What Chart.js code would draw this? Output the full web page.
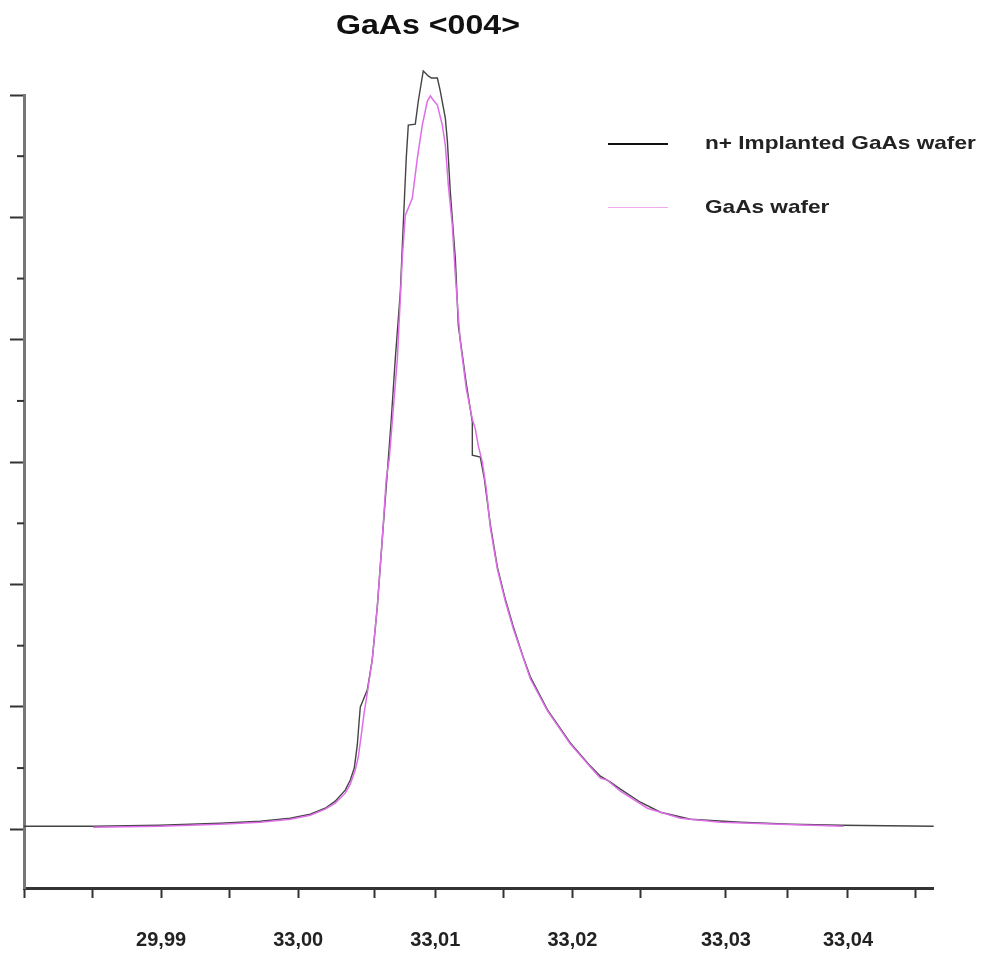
<!DOCTYPE html>
<html>
<head>
<meta charset="utf-8">
<script src="https://cdn.jsdelivr.net/npm/chart.js@4.4.1/dist/chart.umd.min.js"></script>
<style>
    body { margin: 0; background: #fff; font-family: "Liberation Sans", Arial, sans-serif; }
    #wrap { position: relative; width: 987px; height: 954px; }
    #titolo {
        position: absolute; left: 0; top: 12px; width: 856px; text-align: center;
        font-weight: bold; font-size: 27px; line-height: 27px; color: #111;
        transform: scaleX(1.19);
    }
    #legenda { position: absolute; left: 608px; top: 126px; }
    .voce { position: relative; height: 64px; }
    .segno { position: absolute; left: 0; width: 60px; }
    .testo {
        position: absolute; left: 97px; top: 5px; white-space: nowrap;
        font-weight: bold; font-size: 19px; line-height: 24px; color: #222;
        transform: scaleX(1.19); transform-origin: left center;
    }
</style>
</head>
<body>
<div id="wrap">
    <canvas id="grafico"></canvas>
    <div id="titolo">GaAs &lt;004&gt;</div>
    <div id="legenda"></div>
</div>
<script>
// n+ implanted wafer (black curve), angle and relative intensity
const implantedX = [32.98000, 32.98263, 32.98518, 32.98993, 32.99431, 32.99723, 32.99942, 33.00088,
    33.00197, 33.00270, 33.00343, 33.00380, 33.00409, 33.00431, 33.00445, 33.00453, 33.00474, 33.00504,
    33.00540, 33.00577, 33.00613, 33.00650, 33.00679, 33.00708, 33.00745, 33.00766, 33.00788, 33.00803,
    33.00854, 33.00876, 33.00912, 33.00949, 33.00971, 33.01015, 33.01036, 33.01073, 33.01088, 33.01109,
    33.01146, 33.01168, 33.01226, 33.01270, 33.01270, 33.01328, 33.01358, 33.01401, 33.01453, 33.01511,
    33.01569, 33.01635, 33.01693, 33.01818, 33.01985, 33.02131, 33.02204, 33.02277, 33.02350, 33.02496,
    33.02642, 33.02861, 33.03226, 33.03591, 33.03956, 33.04635];
const implantedY = [0.025, 0.025, 0.025, 0.033, 0.049, 0.066, 0.090, 0.123,
    0.172, 0.230, 0.320, 0.402, 0.500, 0.689, 0.893, 1.000, 1.057, 1.139,
    1.385, 1.820, 2.369, 2.918, 3.352, 3.844, 4.393, 4.934, 5.484, 5.754,
    5.762, 5.951, 6.197, 6.156, 6.139, 6.139, 6.033, 5.811, 5.623, 5.213,
    4.664, 4.115, 3.639, 3.328, 3.057, 3.041, 2.861, 2.492, 2.140, 1.877,
    1.656, 1.426, 1.246, 0.975, 0.705, 0.516, 0.434, 0.385, 0.328, 0.221,
    0.139, 0.082, 0.057, 0.041, 0.033, 0.025];

// plain GaAs wafer (pink curve)
const waferX = [32.98504, 32.98993, 32.99431, 32.99723, 32.99942, 33.00088, 33.00197, 33.00270,
    33.00343, 33.00380, 33.00416, 33.00438, 33.00460, 33.00482, 33.00504, 33.00540, 33.00577, 33.00613,
    33.00642, 33.00664, 33.00723, 33.00759, 33.00781, 33.00832, 33.00869, 33.00905, 33.00942, 33.00964,
    33.00985, 33.01015, 33.01051, 33.01073, 33.01095, 33.01124, 33.01146, 33.01182, 33.01226, 33.01270,
    33.01292, 33.01314, 33.01343, 33.01372, 33.01401, 33.01453, 33.01511, 33.01569, 33.01693, 33.01818,
    33.01985, 33.02131, 33.02204, 33.02255, 33.02350, 33.02547, 33.02788, 33.03080, 33.03518, 33.03978];
const waferY = [0.016, 0.025, 0.041, 0.057, 0.082, 0.115, 0.164, 0.213,
    0.295, 0.369, 0.484, 0.590, 0.770, 0.959, 1.115, 1.385, 1.820, 2.369,
    2.861, 3.025, 3.844, 4.664, 5.016, 5.156, 5.484, 5.754, 5.951, 5.992,
    5.959, 5.918, 5.754, 5.590, 5.262, 4.934, 4.525, 3.984, 3.598, 3.352,
    3.270, 3.131, 3.000, 2.779, 2.467, 2.123, 1.861, 1.639, 1.230, 0.967,
    0.697, 0.508, 0.418, 0.402, 0.311, 0.172, 0.090, 0.057, 0.041, 0.025];

// x axis tick marks (the original labels are not evenly placed)
const xTickValues = [32.980, 32.985, 32.990, 32.995, 33.000, 33.0056, 33.010, 33.015,
    33.020, 33.025, 33.0312, 33.0357, 33.0401, 33.045];
const xTickLabels = ['', '', '29,99', '', '33,00', '', '33,01', '',
    '33,02', '', '33,03', '', '33,04', ''];

// y axis: long ticks at integers, short ticks at the halves
const yMajor = [0, 1, 2, 3, 4, 5, 6];
const yMinor = [0.5, 1.5, 2.5, 3.5, 4.5, 5.5];

function punti(xs, ys) {
    return xs.map((x, i) => ({ x: x, y: ys[i] }));
}

// short ticks on the y axis
const tacchePiccole = {
    id: 'tacchePiccole',
    afterDraw(chart) {
        const asse = chart.scales.y;
        const ctx = chart.ctx;
        ctx.save();
        ctx.strokeStyle = '#333';
        ctx.lineWidth = 2;
        yMinor.forEach(v => {
            const py = asse.getPixelForValue(v);
            ctx.beginPath();
            ctx.moveTo(asse.right - 7, py);
            ctx.lineTo(asse.right, py);
            ctx.stroke();
        });
        ctx.restore();
    }
};

const grafico = new Chart(document.getElementById('grafico'), {
    type: 'line',
    data: {
        datasets: [{
            label: 'n+ Implanted GaAs wafer',
            data: punti(implantedX, implantedY),
            borderColor: '#444',
            borderWidth: 1.4,
            pointRadius: 0,
            tension: 0,
            clip: false,
            order: 1
        }, {
            label: 'GaAs wafer',
            data: punti(waferX, waferY),
            borderColor: 'rgb(222, 110, 232)',
            borderWidth: 1.5,
            pointRadius: 0,
            tension: 0,
            clip: false,
            order: 0
        }]
    },
    options: {
        responsive: true,
        maintainAspectRatio: false,
        animation: false,
        layout: { padding: { top: 95, left: 10, right: 54, bottom: -28 } },
        plugins: {
            legend: { display: false },
            title: { display: false },
            tooltip: { enabled: false }
        },
        scales: {
            x: {
                type: 'linear',
                min: 32.980,
                max: 33.0463,
                afterBuildTicks: scale => {
                    scale.ticks = xTickValues.map(v => ({ value: v }));
                },
                ticks: {
                    autoSkip: false,
                    maxRotation: 0,
                    padding: 23,
                    color: '#222',
                    font: { family: '"Liberation Sans", Arial, sans-serif', size: 20, weight: 'bold', lineHeight: 1.9 },
                    callback: (value, index) => xTickLabels[index]
                },
                grid: {
                    drawOnChartArea: false,
                    tickLength: 10,
                    tickWidth: 2,
                    tickColor: '#333'
                },
                border: { color: '#333', width: 3 }
            },
            y: {
                min: -0.48,
                max: 6.0,
                afterBuildTicks: scale => {
                    scale.ticks = yMajor.map(v => ({ value: v }));
                },
                ticks: { display: false },
                grid: {
                    drawOnChartArea: false,
                    tickLength: 14,
                    tickWidth: 2,
                    tickColor: '#333'
                },
                border: { color: '#777', width: 3 }
            }
        }
    },
    plugins: [tacchePiccole]
});

// legend drawn beside the curves, from the datasets
const legenda = document.getElementById('legenda');
grafico.data.datasets.forEach((ds, i) => {
    const voce = document.createElement('div');
    voce.className = 'voce';
    const segno = document.createElement('div');
    segno.className = 'segno';
    segno.style.top = '17px';
    segno.style.height = i === 0 ? '2px' : '1px';
    segno.style.background = i === 0 ? '#111' : '#f0a8f0';
    const testo = document.createElement('div');
    testo.className = 'testo';
    testo.textContent = ds.label;
    voce.appendChild(segno);
    voce.appendChild(testo);
    legenda.appendChild(voce);
});
</script>
</body>
</html>
